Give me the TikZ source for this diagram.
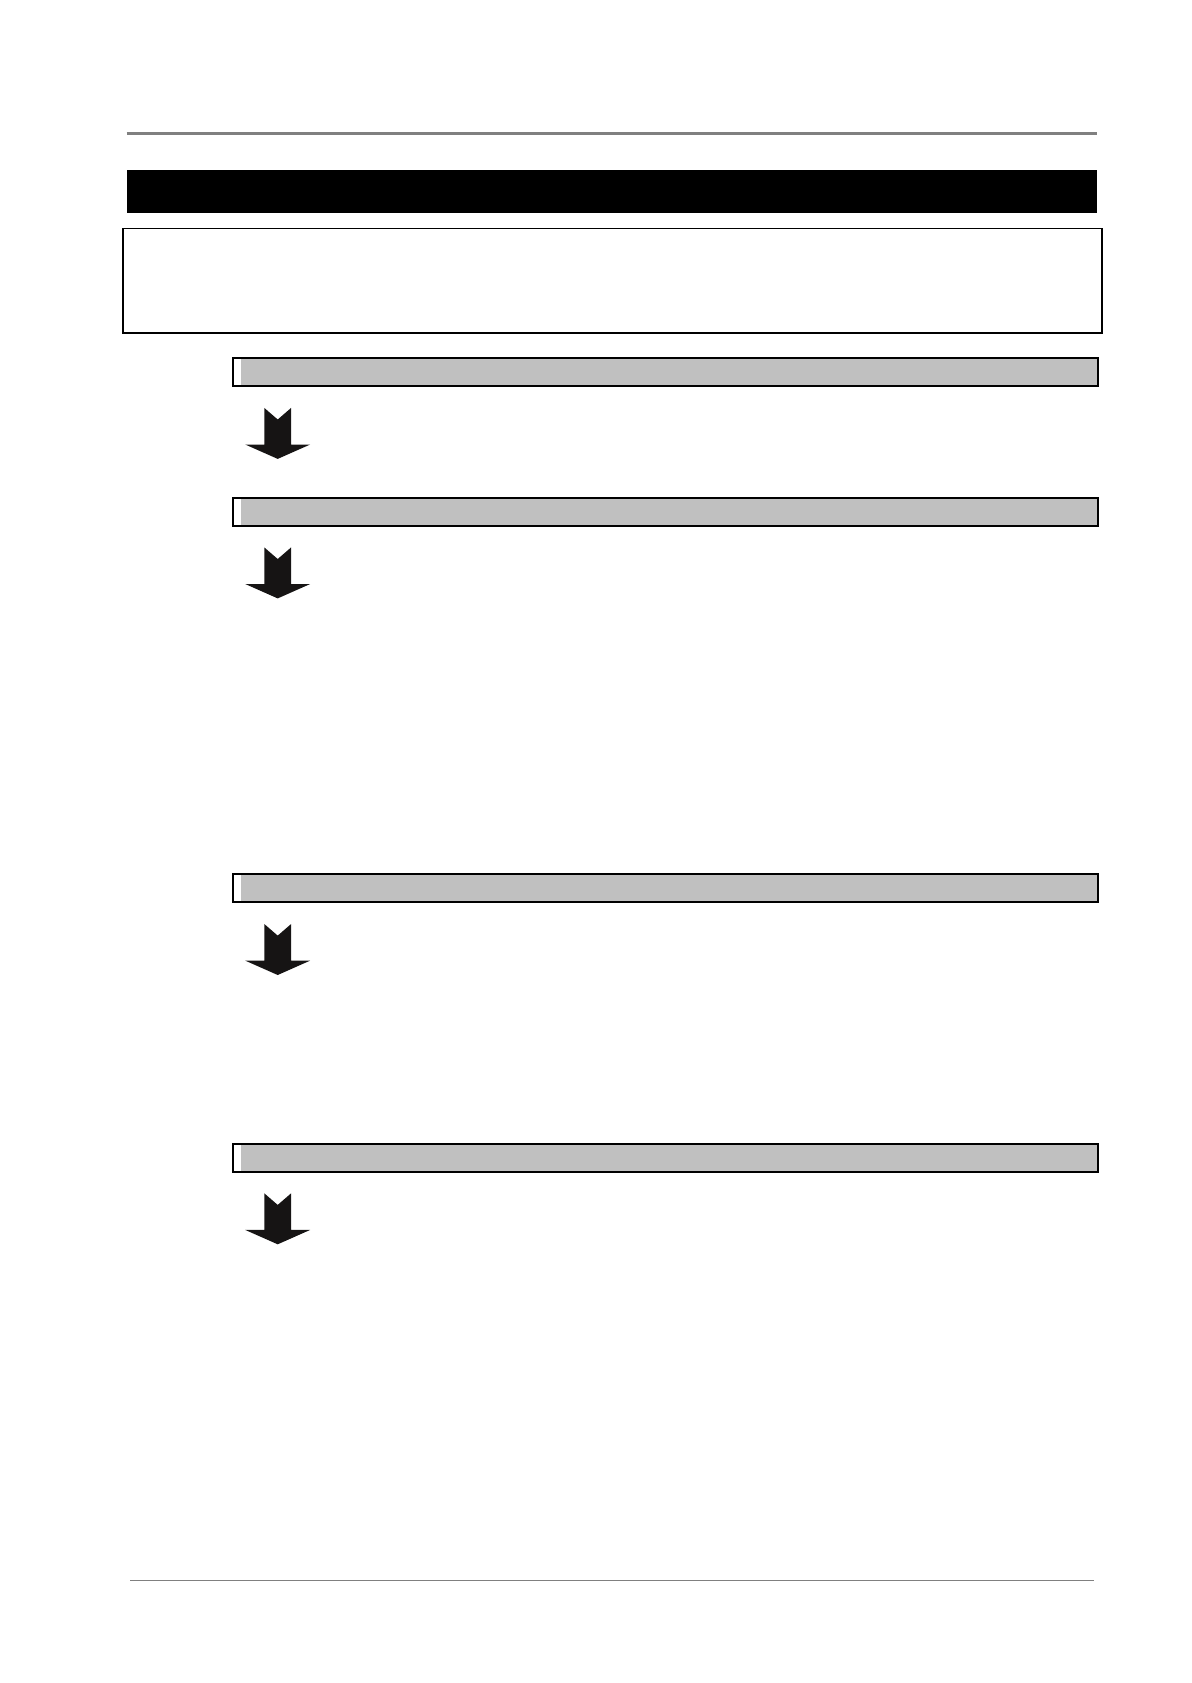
\documentclass[tikz,border=0pt]{standalone}
\usepackage{tikz}
\usetikzlibrary{positioning}

\definecolor{barGray}{RGB}{192,192,192}
\definecolor{ruleGray}{RGB}{128,128,128}
\definecolor{arrowBlack}{RGB}{22,20,20}

\begin{document}
\begin{tikzpicture}[x=1pt,y=-1pt]
			\tikzstyle{stepbar} = [draw=black,line width=2pt,fill=barGray,inner sep=0pt,anchor=north west,
				minimum width=865pt,minimum height=28pt,
				path picture={\fill[white] (path picture bounding box.south west) rectangle ([xshift=8pt]path picture bounding box.north west);}];
			\tikzstyle{downarrow} = [fill=arrowBlack];
			\useasboundingbox (0,0) rectangle (1191,1683);
			% page rules
			\draw[ruleGray,line width=2.7pt] (126.7,133.7) -- (1096.7,133.7);
			\draw[ruleGray,line width=1pt] (130,1580.7) -- (1094,1580.7);
			% title bar and frame
			\node[fill=black,inner sep=0pt,anchor=north west,minimum width=970pt,minimum height=42.7pt] (title) at (126.7,170) {};
			\node[draw=black,line width=1.3pt,inner sep=0pt,anchor=north west,minimum width=979pt,minimum height=104.6pt] (frame) at (122.3,227.7) {};
			% steps
			\node[stepbar] (bar1) at (231.5,357.3) {};
			\node[stepbar] (bar2) at (231.5,496.8) {};
			\node[stepbar] (bar3) at (231.5,873.4) {};
			\node[stepbar] (bar4) at (231.5,1142.7) {};
			\foreach \n in {1,2,3,4} {
				\coordinate (a\n) at ([xshift=46.2pt,yshift=-20.6pt]bar\n.south west);
				\fill[downarrow] (a\n) ++(-13.4,0) -- ++(13.4,11.6) -- ++(13.4,-11.6) -- ++(0,36.6)
					-- ++(19.1,0) -- ++(-32.5,14.4) -- ++(-32.5,-14.4) -- ++(19.1,0) -- cycle;
			}
		\end{tikzpicture}
\end{document}
